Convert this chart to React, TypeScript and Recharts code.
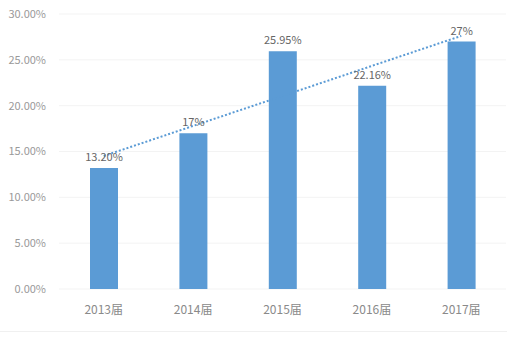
import React from "react"
import {
  ComposedChart,
  Bar,
  Line,
  XAxis,
  YAxis,
  CartesianGrid,
  LabelList,
} from "recharts"

const years = ["2013届", "2014届", "2015届", "2016届", "2017届"]
const rates = [13.2, 17, 25.95, 22.16, 27]
const rateLabels = ["13.20%", "17%", "25.95%", "22.16%", "27%"]
// linear trend line
const trend = [14.51, 17.79, 21.06, 24.34, 27.61]
const yTicks = [0, 5, 10, 15, 20, 25, 30]

const chartData = years.map((year, i) => ({
  year,
  rate: rates[i],
  label: rateLabels[i],
  trend: trend[i],
}))

const font = '"Noto Sans CJK SC", "Noto Sans", sans-serif'

const App = () => {
  return (
    <div style={{ position: "absolute", left: 0, top: 0, width: 507, height: 361, background: "#fff" }}>
      <ComposedChart
        width={507}
        height={361}
        data={chartData}
        margin={{ top: 14, right: 1, left: 0, bottom: 42 }}
        barCategoryGap={0}
      >
        <CartesianGrid horizontal vertical={false} stroke="#f3f3f3" />
        <XAxis
          dataKey="year"
          axisLine={false}
          tickLine={false}
          tickMargin={10}
          tick={{ fontSize: 12, fill: "#8a8a8a", fontFamily: font }}
        />
        <YAxis
          width={59}
          domain={[0, 30]}
          ticks={yTicks}
          axisLine={false}
          tickLine={false}
          tickMargin={7}
          tickFormatter={(v: number) => `${v.toFixed(2)}%`}
          tick={{ fontSize: 11, fill: "#9a9a9a", fontFamily: font }}
        />
        <Bar dataKey="rate" fill="#5b9bd5" barSize={28} isAnimationActive={false}>
          <LabelList
            dataKey="label"
            position="top"
            offset={7}
            style={{ fontSize: 11, fill: "#666", fontFamily: font }}
          />
        </Bar>
        <Line
          dataKey="trend"
          stroke="#5b9bd5"
          strokeWidth={2}
          strokeDasharray="2 2"
          dot={false}
          activeDot={false}
          isAnimationActive={false}
        />
      </ComposedChart>
      <div style={{ position: "absolute", left: 0, top: 331, width: 507, height: 1, background: "#f0f0f0" }} />
    </div>
  )
}

export default App
